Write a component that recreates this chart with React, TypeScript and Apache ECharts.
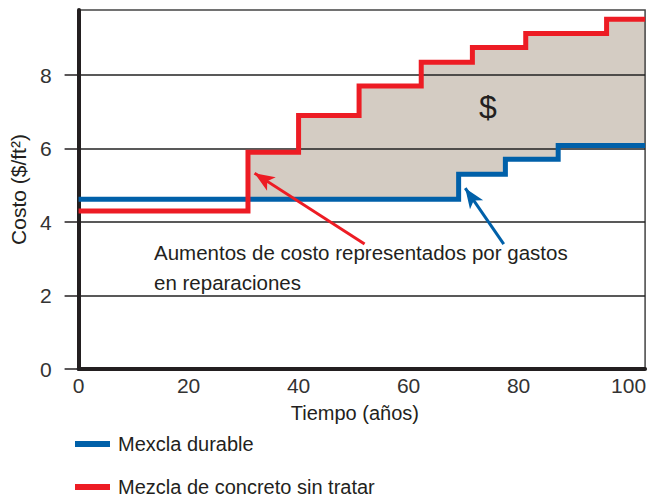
import React, { useEffect, useRef } from "react";
import * as echarts from "echarts";

// Step series: [year, cost] — value holds until the next point's year
const durableSteps: [number, number][] = [
  [0, 4.62], [69.1, 5.3], [77.6, 5.71], [87.2, 6.08], [103, 6.08],
];
const untreatedSteps: [number, number][] = [
  [0, 4.3], [30.8, 5.9], [40, 6.9], [51, 7.7], [62.3, 8.35], [71.6, 8.75], [81.3, 9.13], [96, 9.52], [103, 9.52],
];
const xTicks = [0, 20, 40, 60, 80, 100];
const yTicks = [0, 2, 4, 6, 8];
const seriesNames = ["Mexcla durable", "Mezcla de concreto sin tratar"];
// arrows: [tail, head] in data coordinates
const redArrow: [number, number][] = [[52.0, 3.4], [32.0, 5.33]];
const blueArrow: [number, number][] = [[77.3, 3.4], [70.3, 4.92]];
const noteText = "Aumentos de costo representados por gastos\nen reparaciones";

const FONT = "Liberation Sans, Arial, sans-serif";
const TXT = "#231f20";
const RED = "#ed1c24";
const BLUE = "#0060a9";
const FILL = "#d4ccc3";

function valAt(pts: [number, number][], x: number) {
  let v = pts[0][1];
  for (const p of pts) if (p[0] <= x) v = p[1];
  return v;
}
function stepFrom(pts: [number, number][], fromX: number) {
  const out: [number, number][] = [[fromX, valAt(pts, fromX)]];
  let prev = valAt(pts, fromX);
  for (const p of pts) {
    if (p[0] > fromX) {
      out.push([p[0], prev]);
      out.push([p[0], p[1]]);
      prev = p[1];
    }
  }
  return out;
}

export default function App() {
  const ref = useRef<HTMLDivElement>(null);
  useEffect(() => {
    if (!ref.current) return;
    const chart = echarts.init(ref.current, null, { renderer: "svg" });
    const fillStart = untreatedSteps[1][0];
    const upper = stepFrom(untreatedSteps, fillStart);
    const lower = stepFrom(durableSteps, fillStart).reverse();
    chart.setOption({
      animation: false,
      textStyle: { fontFamily: FONT },
      grid: { left: 75, right: 2, top: 10, bottom: 130, show: true, borderColor: "#444", borderWidth: 1.5 },
      xAxis: {
        type: "value",
        min: 0,
        max: 103,
        interval: 20,
        name: "Tiempo (años)",
        nameLocation: "middle",
        nameGap: 34,
        nameTextStyle: { fontSize: 20, color: TXT, fontFamily: FONT, padding: [0, 14, 0, 0] },
        axisLine: { lineStyle: { color: TXT, width: 4 } },
        axisTick: { show: false },
        splitLine: { show: false },
        axisLabel: {
          customValues: xTicks,
          fontSize: 21,
          color: "#333",
          margin: 6,
          fontFamily: FONT,
        },
      },
      yAxis: {
        type: "value",
        min: 0,
        max: 9.77,
        interval: 2,
        name: "Costo ($/ft²)",
        nameLocation: "middle",
        nameGap: 41,
        nameTextStyle: { fontSize: 21, color: TXT, fontFamily: FONT },
        axisLine: { show: true, lineStyle: { color: TXT, width: 4 } },
        axisTick: { show: true, customValues: yTicks, length: 14, lineStyle: { color: TXT, width: 1.5 } },
        splitLine: { show: true, lineStyle: { color: "#222", width: 1.5 } },
        axisLabel: {
          customValues: yTicks,
          fontSize: 21,
          color: "#333",
          margin: 27,
          fontFamily: FONT,
        },
      },
      legend: {
        orient: "vertical",
        left: 75,
        top: 434,
        padding: 0,
        itemGap: 23,
        itemWidth: 35,
        itemHeight: 6,
        icon: "rect",
        data: seriesNames,
        textStyle: { fontSize: 20, color: TXT, fontFamily: FONT, padding: [0, 0, 0, 3] },
      },
      series: [
        {
          type: "custom",
          name: "fill",
          z: -1,
          silent: true,
          data: [[0]],
          renderItem: (_params: any, api: any) => {
            const pts = [...upper, ...lower].map((p) => api.coord(p));
            return {
              type: "polygon",
              shape: { points: pts },
              style: { fill: FILL, stroke: "none" },
            };
          },
        },
        {
          type: "line",
          name: seriesNames[0],
          step: "end",
          data: durableSteps,
          showSymbol: false,
          symbol: "none",
          color: BLUE,
          lineStyle: { color: BLUE, width: 5, join: "miter", cap: "butt" },
          z: 3,
          markLine: {
            silent: true,
            symbol: ["none", "arrow"],
            symbolSize: [12, 20],
            label: { show: false },
            lineStyle: { color: BLUE, width: 3, type: "solid" },
            data: [[{ coord: blueArrow[0] }, { coord: blueArrow[1] }]],
          },
        },
        {
          type: "line",
          name: seriesNames[1],
          step: "end",
          data: untreatedSteps,
          showSymbol: false,
          symbol: "none",
          color: RED,
          lineStyle: { color: RED, width: 5, join: "miter", cap: "butt" },
          z: 4,
          markLine: {
            silent: true,
            symbol: ["none", "arrow"],
            symbolSize: [12, 20],
            label: { show: false },
            lineStyle: { color: RED, width: 3, type: "solid" },
            data: [[{ coord: redArrow[0] }, { coord: redArrow[1] }]],
          },
        },
      ],
      graphic: [
        {
          type: "text",
          left: 154,
          top: 237,
          z: 10,
          style: { text: noteText, fontSize: 20.5, lineHeight: 30, fill: TXT, fontFamily: FONT },
        },
        {
          type: "text",
          x: 488,
          y: 107,
          z: 10,
          style: { text: "$", fontSize: 32, fill: TXT, fontFamily: FONT, align: "center", verticalAlign: "middle" },
        },
      ],
    });
    return () => chart.dispose();
  }, []);
  return <div ref={ref} style={{ position: "absolute", left: 0, top: 0, width: 649, height: 499 }} />;
}
